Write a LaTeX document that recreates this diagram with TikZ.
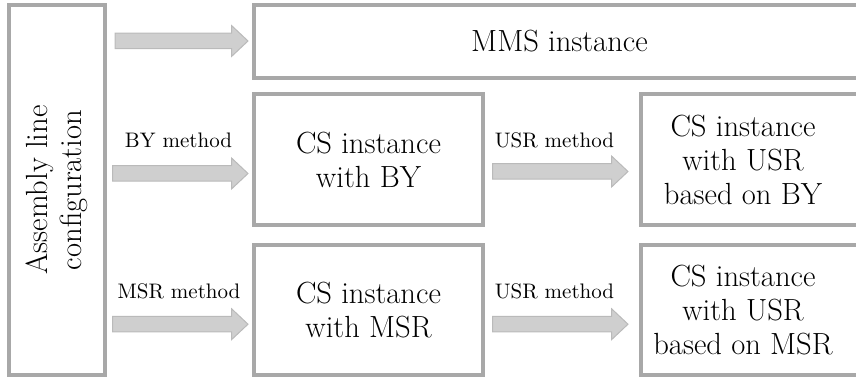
\documentclass[tikz,border=0pt]{standalone}
\newdimen\pxu \pxu=0.5pt
\definecolor{boxgray}{RGB}{168,168,168}
\definecolor{arrfill}{RGB}{207,207,207}
\definecolor{arredge}{RGB}{186,186,186}
% block arrow: start x, tip x, centre y
\newcommand\blockarr[3]{%
  \draw[blockarrow] (#1,#3-7.75) -- (#2-16.5,#3-7.75) -- (#2-16.5,#3-15.5) -- (#2,#3)
    -- (#2-16.5,#3+15.5) -- (#2-16.5,#3+7.75) -- (#1,#3+7.75) -- cycle;}
\begin{document}
\begin{tikzpicture}[x=0.5pt,y=-0.5pt,
  box/.style={draw=boxgray, line width=2pt, fill=white, align=center, inner sep=0pt, font=\fontsize{15.3}{17}\selectfont},
  boxtext/.style={align=center, inner sep=0pt, font=\fontsize{15.3}{17}\selectfont},
  blockarrow/.style={draw=arredge, fill=arrfill, line width=0.5pt, line join=miter},
  lbl/.style={anchor=base, inner sep=0pt, font=\fontsize{10.5}{12}\selectfont}]
\useasboundingbox (0,0) rectangle (856,379);
\clip (0,0) rectangle (856,379);
% boxes
\node[box, rotate=90, minimum width=370\pxu, minimum height=96\pxu] (alc) at (57,190) {Assembly line\\configuration};
\node[box, minimum width=611\pxu, minimum height=73\pxu] (mms) at (559.5,41.5) {MMS instance};
\node[box, minimum width=229\pxu, minimum height=131\pxu] (csby) at (368.5,159.5) {CS instance\\with BY};
\node[box, minimum width=229\pxu, minimum height=130\pxu] (csmsr) at (368.5,310) {CS instance\\with MSR};
\node[box, minimum width=300\pxu, minimum height=131\pxu, anchor=west] (usrby) at (639,159.5) {};
\node[box, minimum width=300\pxu, minimum height=130\pxu, anchor=west] (usrmsr) at (639,310) {};
\node[boxtext] (usrbyt) at (743,160) {CS instance\\with USR\\based on BY};
\node[boxtext] (usrmsrt) at (743,310) {CS instance\\with USR\\based on MSR};
% arrows
\blockarr{115}{248}{41}
\blockarr{112.5}{248}{173.5}
\blockarr{112.5}{248}{324.2}
\blockarr{492.7}{628}{171.5}
\blockarr{492.7}{628}{324.2}
% labels
\node[lbl] (lby) at (178.5,148) {BY method};
\node[lbl] (lmsr) at (179,298.3) {MSR method};
\node[lbl] (lusr1) at (554.5,148) {USR method};
\node[lbl] (lusr2) at (554.5,298.3) {USR method};
\end{tikzpicture}
\end{document}
